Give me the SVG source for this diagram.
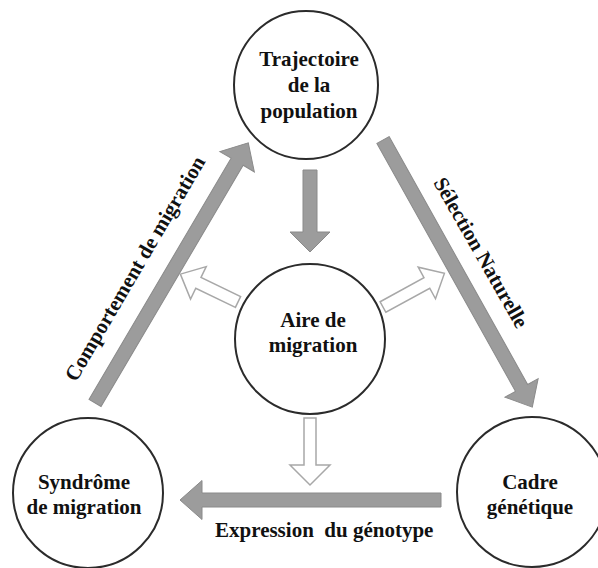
<svg xmlns="http://www.w3.org/2000/svg" width="598" height="568" viewBox="0 0 598 568">
<style>
.node circle,.node ellipse{fill:#fff;stroke:#2b2b2b;stroke-width:2}
text{font-family:"Liberation Serif","Times New Roman",serif;font-weight:bold;font-size:21px;fill:#111}
.c{text-anchor:middle}
.big{fill:#9c9c9c;stroke:#8a8a8a;stroke-width:1}
.hol{fill:#fff;stroke:#a8a8a8;stroke-width:1.5}
</style>
<rect width="598" height="568" fill="#fff"/>
<g id="connectors">
  <polygon class="big" transform="translate(95,403) rotate(-59.5)" points="0,-7 280,-7 280,-20 302,0 280,20 280,7 0,7"/>
  <polygon class="big" transform="translate(383,140) rotate(60.8)" points="0,-7 284,-7 284,-19 306,0 284,19 284,7 0,7"/>
  <polygon class="big" points="441,493 202,493 202,480.5 180,500 202,519.5 202,507 441,507"/>
  <polygon class="big" points="303,170 317,170 317,232 330,232 310,252 290,232 303,232"/>
  <polygon class="hol" points="304,418 316,418 316,465 330,465 310,485 290,465 304,465"/>
  <polygon class="hol" transform="translate(238,302) rotate(-154.2)" points="0,-6 44,-6 44,-18 64,0 44,18 44,6 0,6"/>
  <polygon class="hol" transform="translate(383,307) rotate(-28.7)" points="0,-6 50,-6 50,-18 70,0 50,18 50,6 0,6"/>
  <text transform="translate(141,272) rotate(-59.6)" class="c">Comportement de migration</text>
  <text transform="translate(475,256) rotate(60.3)" class="c">Sélection Naturelle</text>
  <text x="215" y="537" xml:space="preserve">Expression  du génotype</text>
</g>
<g id="trajectoire" class="node">
  <ellipse cx="306" cy="85" rx="72" ry="74"/>
  <text class="c" x="309" y="66">Trajectoire</text>
  <text class="c" x="309" y="92">de la</text>
  <text class="c" x="309" y="118">population</text>
</g>
<g id="aire" class="node">
  <circle cx="310" cy="339" r="75"/>
  <text class="c" x="313" y="327">Aire de</text>
  <text class="c" x="313" y="352">migration</text>
</g>
<g id="syndrome" class="node">
  <circle cx="88" cy="493" r="75"/>
  <text class="c" x="84" y="489">Syndrôme</text>
  <text class="c" x="84" y="514">de migration</text>
</g>
<g id="cadre" class="node">
  <circle cx="532" cy="492" r="75"/>
  <text class="c" x="530" y="489">Cadre</text>
  <text class="c" x="530" y="514">génétique</text>
</g>
</svg>
